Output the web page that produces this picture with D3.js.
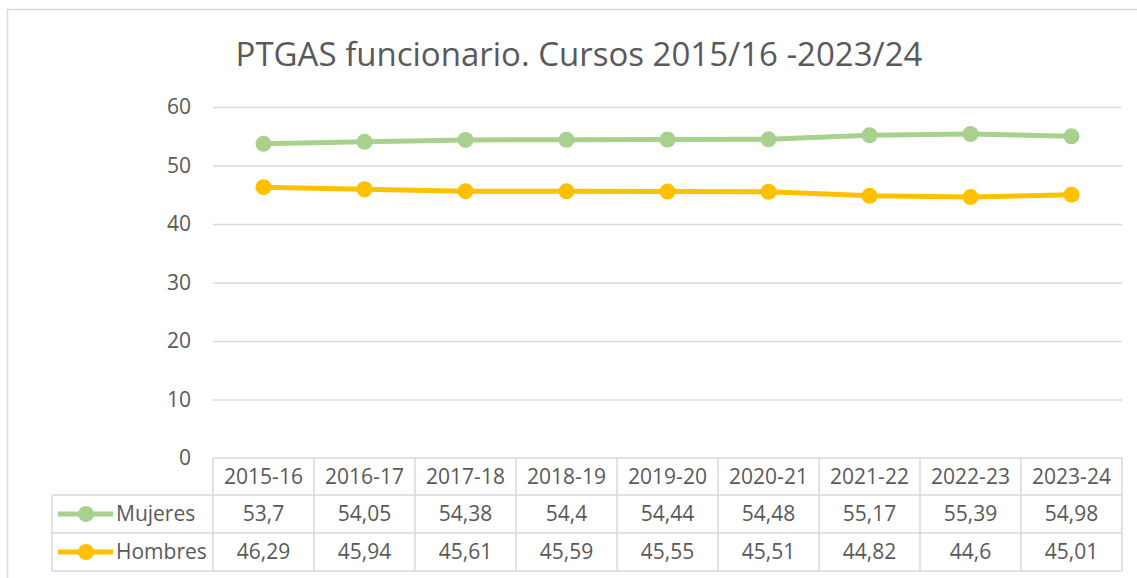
<!DOCTYPE html>
<html>
<head>
<meta charset="utf-8">
<script src="https://cdn.jsdelivr.net/npm/d3@7"></script>
<style>
  body { margin: 0; background: #fff; }
  text { font-family: "Open Sans", sans-serif; fill: #595959; }
</style>
</head>
<body>
<div id="chart"></div>
<script>
var cursos = ["2015-16", "2016-17", "2017-18", "2018-19", "2019-20", "2020-21", "2021-22", "2022-23", "2023-24"];
var mujeres = [53.7, 54.05, 54.38, 54.4, 54.44, 54.48, 55.17, 55.39, 54.98];
var hombres = [46.29, 45.94, 45.61, 45.59, 45.55, 45.51, 44.82, 44.6, 45.01];
var yTicks = [0, 10, 20, 30, 40, 50, 60];
var titulo = "PTGAS funcionario. Cursos 2015/16 -2023/24";

var series = [
  { name: "Mujeres", values: mujeres, color: "#A9D18E" },
  { name: "Hombres", values: hombres, color: "#FFC000" }
];

var svgWidth = 1137, svgHeight = 578;
var plot = { left: 213, right: 1122, top: 107, bottom: 458 };
var rowH = 38;
var headerH = 37;
var legendLeft = 52;
var grid = "#d9d9d9";
var fs = "21px";

var svg = d3.select("#chart")
  .append("svg")
  .attr("width", svgWidth)
  .attr("height", svgHeight);

// chart area border (only left and top visible)
svg.append("path")
  .attr("d", "M7.5," + svgHeight + " V9.5 H" + svgWidth)
  .attr("fill", "none")
  .attr("stroke", grid)
  .attr("stroke-width", 1.5);

svg.append("text")
  .attr("x", 579)
  .attr("y", 66)
  .attr("text-anchor", "middle")
  .style("font-size", "33px")
  .text(titulo);

var xScale = d3.scaleBand()
  .domain(cursos)
  .range([plot.left, plot.right]);

var yScale = d3.scaleLinear()
  .domain([0, 60])
  .range([plot.bottom, plot.top]);

var yAxis = d3.axisLeft(yScale)
  .tickValues(yTicks)
  .tickSize(-(plot.right - plot.left))
  .tickPadding(22)
  .tickFormat(d3.format("d"));

var yG = svg.append("g")
  .attr("transform", `translate(${plot.left}, 0)`)
  .call(yAxis);
yG.select(".domain").remove();
yG.selectAll(".tick line").attr("stroke", grid).attr("stroke-width", 1.5);
yG.selectAll(".tick text")
  .style("font-size", fs)
  .style("font-family", "'Open Sans', sans-serif")
  .attr("fill", "#595959");
yG.selectAll(".tick").filter(d => d === 0).select("line").remove();

var line = d3.line()
  .x((d, i) => xScale(cursos[i]) + xScale.bandwidth() / 2)
  .y(d => yScale(d));

series.forEach(function(s) {
  svg.append("path")
    .datum(s.values)
    .attr("d", line)
    .attr("fill", "none")
    .attr("stroke", s.color)
    .attr("stroke-width", 5)
    .attr("stroke-linejoin", "round");

  svg.selectAll(null)
    .data(s.values)
    .enter()
    .append("circle")
    .attr("cx", (d, i) => xScale(cursos[i]) + xScale.bandwidth() / 2)
    .attr("cy", d => yScale(d))
    .attr("r", 8)
    .attr("fill", s.color);
});

// data table
var tTop = plot.bottom;
var tMid = tTop + headerH;
var tBottom = tMid + rowH * series.length;
var table = svg.append("g");

var hLines = [
  { x1: plot.left, y: tTop },
  { x1: legendLeft, y: tMid },
  { x1: legendLeft, y: tMid + rowH },
  { x1: legendLeft, y: tBottom }
];
table.selectAll(".hl")
  .data(hLines)
  .enter()
  .append("line")
  .attr("x1", d => d.x1)
  .attr("x2", plot.right)
  .attr("y1", d => d.y)
  .attr("y2", d => d.y)
  .attr("stroke", grid)
  .attr("stroke-width", 1.5);

var vEdges = cursos.map(c => xScale(c)).concat([plot.right]);
table.selectAll(".vl")
  .data(vEdges)
  .enter()
  .append("line")
  .attr("x1", d => d)
  .attr("x2", d => d)
  .attr("y1", tTop)
  .attr("y2", tBottom)
  .attr("stroke", grid)
  .attr("stroke-width", 1.5);

table.append("line")
  .attr("x1", legendLeft).attr("x2", legendLeft)
  .attr("y1", tMid).attr("y2", tBottom)
  .attr("stroke", grid).attr("stroke-width", 1.5);

table.selectAll(".hd")
  .data(cursos)
  .enter()
  .append("text")
  .attr("x", d => xScale(d) + xScale.bandwidth() / 2)
  .attr("y", tTop + headerH / 2)
  .attr("dy", "0.35em")
  .attr("text-anchor", "middle")
  .style("font-size", fs)
  .text(d => d);

var fmt = v => String(v).replace(".", ",");

series.forEach(function(s, r) {
  var cy = tMid + rowH * r + rowH / 2;
  table.selectAll(null)
    .data(s.values)
    .enter()
    .append("text")
    .attr("x", (d, i) => xScale(cursos[i]) + xScale.bandwidth() / 2)
    .attr("y", cy)
    .attr("dy", "0.35em")
    .attr("text-anchor", "middle")
    .style("font-size", fs)
    .text(d => fmt(d));

  table.append("line")
    .attr("x1", 58).attr("x2", 113)
    .attr("y1", cy).attr("y2", cy)
    .attr("stroke", s.color)
    .attr("stroke-width", 5);
  table.append("circle")
    .attr("cx", 86).attr("cy", cy).attr("r", 8)
    .attr("fill", s.color);
  table.append("text")
    .attr("x", 116)
    .attr("y", cy)
    .attr("dy", "0.35em")
    .style("font-size", fs)
    .text(s.name);
});
</script>
</body>
</html>
